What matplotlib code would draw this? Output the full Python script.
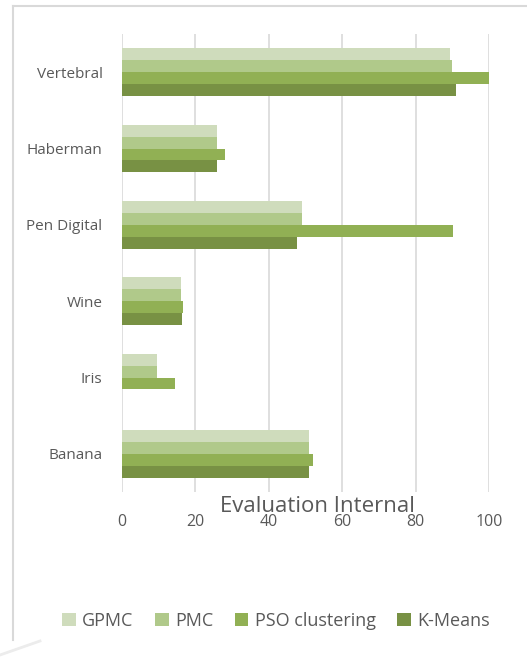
import numpy as np
import matplotlib
matplotlib.use('Agg')
import matplotlib.pyplot as plt
from matplotlib.lines import Line2D
from matplotlib.patches import Patch

plt.rcParams['font.family'] = ['Open Sans', 'DejaVu Sans']

datasets = ['Banana', 'Iris', 'Wine', 'Pen Digital', 'Haberman', 'Vertebral']
series = ['GPMC', 'PMC', 'PSO clustering', 'K-Means']
gpmc = [50.9, 9.5, 16.2, 49.0, 26.0, 89.4]
pmc = [50.9, 9.5, 16.2, 49.1, 26.0, 89.8]
pso = [52.1, 14.5, 16.7, 90.3, 28.2, 100.0]
kmeans = [50.9, 0.0, 16.3, 47.6, 26.0, 90.9]
values = [gpmc, pmc, pso, kmeans]
colors = ['#cfdcbc', '#b0c98a', '#91b054', '#789144']
xticks = [0, 20, 40, 60, 80, 100]

txt = '#595959'
W, H = 527, 659
fig = plt.figure(figsize=(W / 100, H / 100), dpi=100)
ax = fig.add_axes([122 / W, 1 - 492 / H, (489 - 122) / W, (492 - 34) / H])

y = np.arange(len(datasets))
h = 0.157
offsets = [1.5 * h, 0.5 * h, -0.5 * h, -1.5 * h]
for vals, off, c in zip(values, offsets, colors):
    ax.barh(y + off, vals, height=h, color=c, linewidth=0, zorder=3)

ax.set_xlim(0, 100)
ax.set_ylim(-0.5, 5.5)
ax.set_xticks(xticks)
ax.set_yticks(y)
ax.set_yticklabels(datasets)
ax.grid(axis='x', color='#d9d9d9', linewidth=1.2, zorder=0)
for s in ax.spines.values():
    s.set_visible(False)
ax.tick_params(axis='both', length=0, colors=txt)
ax.tick_params(axis='x', labelsize=11.5, pad=16)
ax.tick_params(axis='y', labelsize=11, pad=14)

fig.text(317 / W, 1 - 506 / H, 'Evaluation Internal', ha='center', va='center',
         fontsize=16, color=txt)

handles = [Patch(facecolor=c, edgecolor='none') for c in colors]
fig.legend(handles, series, loc='center', bbox_to_anchor=(276 / W, 1 - 621 / H),
           ncol=4, frameon=False, fontsize=13, handlelength=0.75, handleheight=0.75,
           handletextpad=0.35, columnspacing=1.2, labelcolor=txt)

# chart frame
fig.add_artist(Line2D([13 / W, 1], [1 - 6 / H, 1 - 6 / H], color='#d9d9d9', lw=1.5))
fig.add_artist(Line2D([13 / W, 13 / W], [1 - 6 / H, 1 - 640 / H], color='#d9d9d9', lw=1.5))
fig.add_artist(Line2D([0, 40 / W], [1 - 655 / H, 1 - 641 / H], color='#ececec', lw=2))

fig.savefig('out.png', dpi=100)
